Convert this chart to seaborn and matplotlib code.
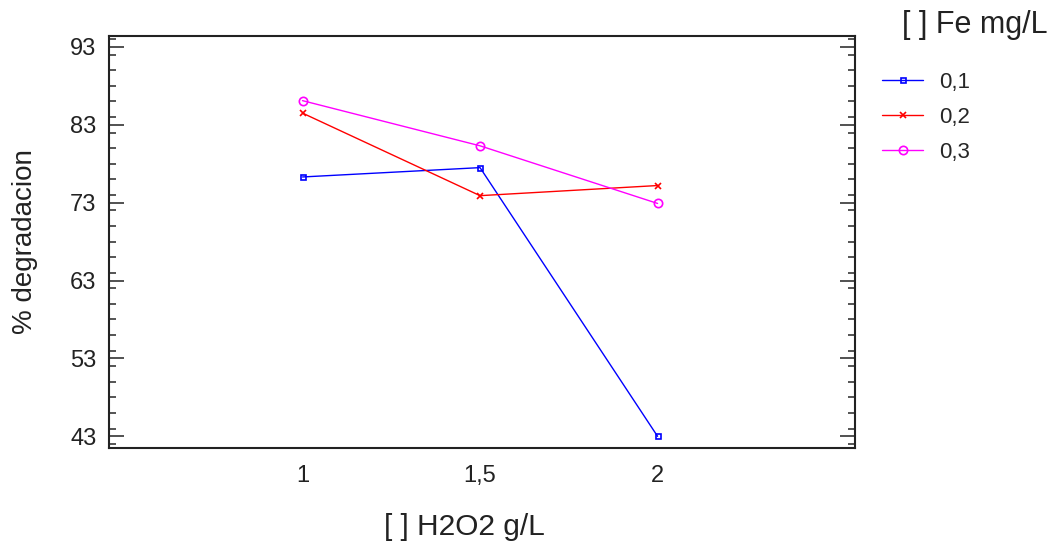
import pandas as pd
import numpy as np
import matplotlib
matplotlib.use('Agg')
import matplotlib.pyplot as plt
from matplotlib.ticker import MultipleLocator
import seaborn as sns

# valores
h2o2 = [1, 1.5, 2]
h2o2_labels = ['1', '1,5', '2']
fe_levels = ['0,1', '0,2', '0,3']
deg_01 = [76.3, 77.5, 43.0]
deg_02 = [84.5, 73.9, 75.2]
deg_03 = [86.1, 80.3, 72.9]
y_ticks = [43, 53, 63, 73, 83, 93]

colors = ['#0000ff', '#ff0000', '#ff00ff']
markers = ['s', 'x', 'o']
msizes = [3.6, 4.5, 6]

df = pd.DataFrame({
    'h2o2': h2o2 * 3,
    'deg': deg_01 + deg_02 + deg_03,
    'fe': np.repeat(fe_levels, len(h2o2)),
})

sns.set_style('white')
plt.rcParams['font.family'] = ['Liberation Sans', 'DejaVu Sans']

fig = plt.figure(figsize=(10.52, 5.48), dpi=100)
ax = fig.add_axes([109 / 1052, 1 - 448 / 548, (855 - 109) / 1052, (448 - 36) / 548])

for lvl, c, m, s in zip(fe_levels, colors, markers, msizes):
    sub = df[df['fe'] == lvl]
    sns.lineplot(data=sub, x='h2o2', y='deg', color=c, marker=m, markersize=s,
                 markerfacecolor='none', markeredgecolor=c, markeredgewidth=1.2,
                 linewidth=1.0, label=lvl, ax=ax)

ax.set_xlim(0.455, 2.556)
ax.set_ylim(41.5, 94.4)
ax.set_xticks(h2o2)
ax.set_xticklabels(h2o2_labels)
ax.set_yticks(y_ticks)
ax.yaxis.set_minor_locator(MultipleLocator(2))

ax.tick_params(axis='x', length=0, pad=12, labelsize=17, colors='#222222')
ax.tick_params(axis='y', which='major', direction='in', length=11, width=1.1,
               left=True, right=True, pad=9, labelsize=17, colors='#222222')
ax.tick_params(axis='y', which='minor', direction='in', length=5, width=1.1,
               left=True, right=True)

for sp in ax.spines.values():
    sp.set_visible(True)
    sp.set_color('#222222')
    sp.set_linewidth(1.5)

ax.set_xlabel('[ ] H2O2 g/L', fontsize=21.5, color='#222222', va='center')
ax.xaxis.set_label_coords(0.477, -0.192)
ax.set_ylabel('% degradacion', fontsize=20, color='#222222', va='center')
ax.yaxis.set_label_coords(-0.113, 0.5)

handles, labels = ax.get_legend_handles_labels()
ax.legend(handles, labels, loc='upper left', bbox_to_anchor=(882 / 1052, 1 - 72 / 548),
          bbox_transform=fig.transFigure, frameon=False, fontsize=16,
          handlelength=1.85, handletextpad=0.7, labelspacing=0.62,
          borderpad=0, borderaxespad=0)
fig.text(902 / 1052, 1 - 25 / 548, '[ ] Fe mg/L', fontsize=22, color='#222222',
         ha='left', va='center')

fig.savefig('out.png', dpi=100)
